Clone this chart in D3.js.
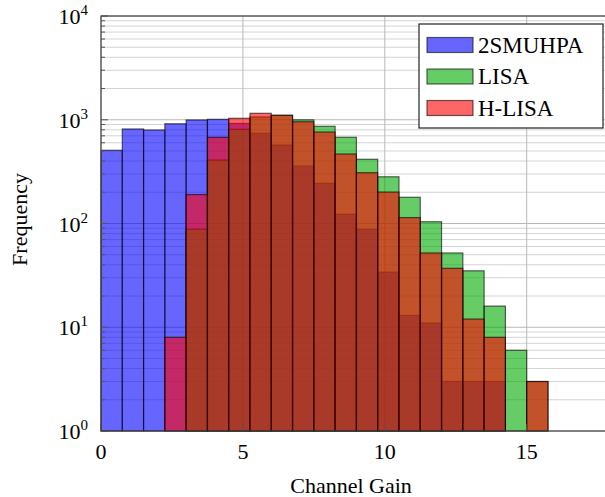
<!DOCTYPE html>
<html lang="en">
<head>
  <meta charset="UTF-8">
  <title>Channel Gain Histogram</title>
  <script src="https://cdn.jsdelivr.net/npm/d3@7"></script>
  <style>
    body { margin: 0; background: #fff; }
    svg { display: block; }
    text { font-family: "Liberation Serif", "Times New Roman", serif; fill: #000; }
    .tick-label { font-size: 22px; }
    .axis-title { font-size: 22px; }
    .legend-text { font-size: 23px; }
  </style>
</head>
<body>
  <div id="container"></div>

  <script>
    // bin left edges (Channel Gain), bin width 0.75
    const binStarts = [0, 0.75, 1.5, 2.25, 3, 3.75, 4.5, 5.25, 6, 6.75, 7.5,
                       8.25, 9, 9.75, 10.5, 11.25, 12, 12.75, 13.5, 14.25, 15];
    const binWidth = 0.75;

    // counts per bin
    const smuhpa = [508, 815, 797, 915, 995, 1010, 924, 740, 571, 358, 244,
                    123, 88, 34, 13, 11, 3, 3, 3, 0, 0];
    const lisa   = [0, 0, 0, 0, 88, 409, 809, 1064, 1104, 998, 865,
                    678, 416, 282, 179, 104, 52, 35, 16, 6, 3];
    const hlisa  = [0, 0, 0, 8, 190, 677, 1033, 1154, 1104, 957, 762,
                    468, 309, 201, 114, 52, 37, 12, 8, 0, 3];

    const seriesNames = ["2SMUHPA", "LISA", "H-LISA"];
    const seriesColors = ["#0000ff", "#00aa00", "#ff0000"];
    const seriesValues = [smuhpa, lisa, hlisa];

    const xTicks = [0, 5, 10, 15];
    const yTicks = [1, 10, 100, 1000, 10000];
    const yExponents = ["0", "1", "2", "3", "4"];

    // Chart dimensions
    const W = 605, H = 497;
    const margin = { top: 16, left: 101 };
    const plotW = 508, plotH = 415;

    const svg = d3.select("#container")
      .append("svg")
      .attr("width", W)
      .attr("height", H);

    const g = svg.append("g")
      .attr("transform", `translate(${margin.left},${margin.top})`);

    const x = d3.scaleLinear().domain([0, 17.9]).range([0, plotW]);
    const y = d3.scaleLog().domain([1, 10000]).range([plotH, 0]);

    // minor grid (2..9 in each decade)
    const minor = [];
    for (let e = 0; e < 4; e++) {
      for (let m = 2; m <= 9; m++) minor.push(m * Math.pow(10, e));
    }
    g.selectAll(".minor-grid")
      .data(minor)
      .enter()
      .append("line")
      .attr("x1", 0).attr("x2", plotW)
      .attr("y1", d => y(d)).attr("y2", d => y(d))
      .attr("stroke", "#d4d4d4")
      .attr("stroke-width", 1);

    // major grid
    g.selectAll(".major-grid-y")
      .data(yTicks)
      .enter()
      .append("line")
      .attr("x1", 0).attr("x2", plotW)
      .attr("y1", d => y(d)).attr("y2", d => y(d))
      .attr("stroke", "#b8b8b8")
      .attr("stroke-width", 1);

    g.selectAll(".major-grid-x")
      .data(xTicks)
      .enter()
      .append("line")
      .attr("x1", d => x(d)).attr("x2", d => x(d))
      .attr("y1", 0).attr("y2", plotH)
      .attr("stroke", "#b8b8b8")
      .attr("stroke-width", 1);

    // bars, drawn in legend order with 0.6 opacity
    seriesValues.forEach((vals, si) => {
      const bins = binStarts.map((b, i) => ({ x0: b, x1: b + binWidth, v: vals[i] }))
        .filter(d => d.v > 0);
      g.selectAll(".bar-" + si)
        .data(bins)
        .enter()
        .append("rect")
        .attr("x", d => x(d.x0))
        .attr("y", d => y(d.v))
        .attr("width", d => x(d.x1) - x(d.x0))
        .attr("height", d => y(1) - y(d.v))
        .attr("fill", seriesColors[si])
        .attr("fill-opacity", 0.6)
        .attr("stroke", "#000")
        .attr("stroke-opacity", 0.6)
        .attr("stroke-width", 1.2);
    });

    // ticks (inside)
    g.selectAll(".minor-tick")
      .data(minor)
      .enter()
      .append("line")
      .attr("x1", 0).attr("x2", 4)
      .attr("y1", d => y(d)).attr("y2", d => y(d))
      .attr("stroke", "#555");
    g.selectAll(".major-tick-y")
      .data(yTicks)
      .enter()
      .append("line")
      .attr("x1", 0).attr("x2", 7)
      .attr("y1", d => y(d)).attr("y2", d => y(d))
      .attr("stroke", "#555");
    g.selectAll(".major-tick-x")
      .data(xTicks)
      .enter()
      .append("line")
      .attr("x1", d => x(d)).attr("x2", d => x(d))
      .attr("y1", plotH).attr("y2", plotH - 7)
      .attr("stroke", "#555");

    // axis box
    g.append("rect")
      .attr("x", 0).attr("y", 0)
      .attr("width", plotW).attr("height", plotH)
      .attr("fill", "none")
      .attr("stroke", "#444")
      .attr("stroke-width", 1.2);

    // x tick labels
    g.selectAll(".x-label")
      .data(xTicks)
      .enter()
      .append("text")
      .attr("class", "tick-label")
      .attr("x", d => x(d))
      .attr("y", plotH + 28)
      .attr("text-anchor", "middle")
      .text(d => d);

    // y tick labels 10^n
    const yl = g.selectAll(".y-label")
      .data(yTicks)
      .enter()
      .append("text")
      .attr("class", "tick-label")
      .attr("x", -13)
      .attr("y", d => y(d) + 8)
      .attr("text-anchor", "end");
    yl.append("tspan").text("10");
    yl.append("tspan")
      .attr("dy", -9)
      .style("font-size", "15px")
      .text((d, i) => yExponents[i]);

    // axis titles
    g.append("text")
      .attr("class", "axis-title")
      .attr("x", 250)
      .attr("y", plotH + 62)
      .attr("text-anchor", "middle")
      .text("Channel Gain");

    g.append("text")
      .attr("class", "axis-title")
      .attr("transform", "rotate(-90)")
      .attr("x", -plotH / 2 + 4)
      .attr("y", -74)
      .attr("text-anchor", "middle")
      .text("Frequency");

    // legend
    const legend = svg.append("g")
      .attr("transform", "translate(419,24)");

    legend.append("rect")
      .attr("width", 184)
      .attr("height", 104)
      .attr("fill", "#fff")
      .attr("stroke", "#222")
      .attr("stroke-width", 1.2);

    seriesNames.forEach((name, i) => {
      const row = legend.append("g")
        .attr("transform", `translate(0,${21 + i * 31.5})`);
      row.append("rect")
        .attr("x", 8).attr("y", -7.5)
        .attr("width", 46).attr("height", 15)
        .attr("fill", seriesColors[i])
        .attr("fill-opacity", 0.6)
        .attr("stroke", "#000")
        .attr("stroke-opacity", 0.6)
        .attr("stroke-width", 1.2);
      row.append("text")
        .attr("class", "legend-text")
        .attr("x", 59)
        .attr("y", 7.5)
        .text(name);
    });
  </script>
</body>
</html>
